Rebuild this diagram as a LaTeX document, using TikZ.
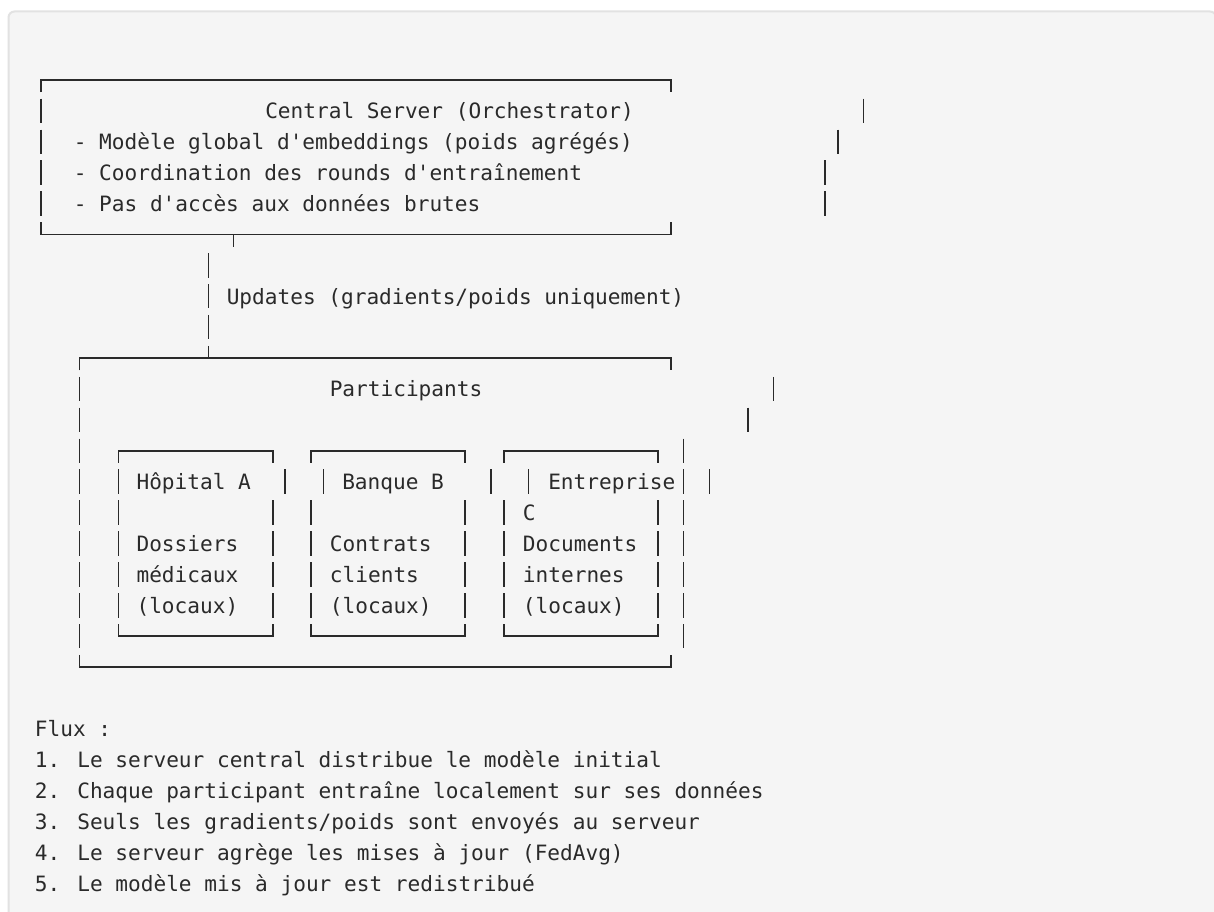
\documentclass[tikz,border=0pt]{standalone}
\usepackage{fontspec}
\newfontfamily\asciimono{DejaVu Sans Mono}[Ligatures=TeXOff]
\usetikzlibrary{positioning}
\definecolor{ink}{HTML}{2A2A2A}
\definecolor{codebg}{HTML}{F5F5F5}
\definecolor{codeframe}{HTML}{E2E2E2}

\begin{document}
\begin{tikzpicture}[
  x=0.75pt, y=-0.75pt,
  declare function={rowy(\r)=80+30.9*\r;},
  bar/.style={draw=ink, line width=1.2pt},
  txt/.style={font=\asciimono\fontsize{15.83}{19}\selectfont, text=ink,
    anchor=base west, inner sep=0pt},
  frame/.style={draw=codeframe, line width=1.5pt, fill=codebg,
    rounded corners=4.5pt},
]
\useasboundingbox (0,0) rectangle (1214,912);
\clip (0,0) rectangle (1214,912);
\fill[white] (0,0) rectangle (1214,912);
\draw[frame] (8.5,11.5) rectangle (1216,940);

% Central server box
\draw[bar] (40.7,{rowy(0)+12.2}) |- (670.7,{rowy(0)}) -- ++(0,12.2);
\draw[bar] (40.7,{rowy(5)-12.2}) |- (670.7,{rowy(5)}) -- ++(0,-12.2);
\draw[bar] (233.3,{rowy(5)}) -- ++(0,12.2);
\foreach \r/\xr in {1/863.3, 2/837.7, 3/825, 4/825} {
  \draw[bar] (40.7,{rowy(\r)-12.2}) -- ++(0,24.4);
  \draw[bar] (\xr,{rowy(\r)-12.2}) -- ++(0,24.4);
}

\node[txt] (server) at (265,{rowy(1)+7.8}) {Central Server (Orchestrator)};
\node[txt] (model) at (73.5,{rowy(2)+7.8})
  {- Modèle global d'embeddings (poids agrégés)};
\node[txt] (coord) at (73.5,{rowy(3)+7.8})
  {- Coordination des rounds d'entraînement};
\node[txt] (noaccess) at (73.5,{rowy(4)+7.8})
  {- Pas d'accès aux données brutes};

% Link between the two boxes
\foreach \r in {6,7,8}
  \draw[bar] (208.3,{rowy(\r)-12.2}) -- ++(0,24.4);
\draw[bar] (208.3,{rowy(9)-12.2}) -- ++(0,12.2);
\node[txt] (updates) at (226.5,{rowy(7)+7.8})
  {Updates (gradients/poids uniquement)};

% Participants box
\draw[bar] (79.3,{rowy(9)+12.2}) |- (670.7,{rowy(9)}) -- ++(0,12.2);
\draw[bar] (79.3,{rowy(19)-12.2}) |- (670.7,{rowy(19)}) -- ++(0,-12.2);
\foreach \r/\xr in {10/773.3, 11/747.7, 12/683.3, 13/683.3, 14/683.3,
    15/683.3, 16/683.3, 17/683.3, 18/683.3} {
  \draw[bar] (79.3,{rowy(\r)-12.2}) -- ++(0,24.4);
  \draw[bar] (\xr,{rowy(\r)-12.2}) -- ++(0,24.4);
}
\draw[bar] (709.3,{rowy(13)-12.2}) -- ++(0,24.4);
\node[txt] (parts) at (329.5,{rowy(10)+7.8}) {Participants};

% Inner boxes
\foreach \xa/\xb in {118.3/272.7, 311/465, 504/657.7} {
  \draw[bar] (\xa,{rowy(12)+12.2}) |- (\xb,{rowy(12)}) -- ++(0,12.2);
  \draw[bar] (\xa,{rowy(18)-12.2}) |- (\xb,{rowy(18)}) -- ++(0,-12.2);
  \foreach \r in {14,...,17} {
    \draw[bar] (\xa,{rowy(\r)-12.2}) -- ++(0,24.4);
    \draw[bar] (\xb,{rowy(\r)-12.2}) -- ++(0,24.4);
  }
}
\foreach \xr in {118.3, 285, 323.3, 490.7, 528.3}
  \draw[bar] (\xr,{rowy(13)-12.2}) -- ++(0,24.4);

\node[txt] (hopital) at (136.3,{rowy(13)+7.8}) {Hôpital A};
\node[txt] (banque) at (342,{rowy(13)+7.8}) {Banque B};
\node[txt] (entreprise) at (548,{rowy(13)+7.8}) {Entreprise};
\node[txt] (entrepriseC) at (522.7,{rowy(14)+7.8}) {C};
\foreach \r/\ta/\tb/\tc in {15/Dossiers/Contrats/Documents,
    16/médicaux/clients/internes, 17/(locaux)/(locaux)/(locaux)} {
  \node[txt] (hop\r) at (136.3,{rowy(\r)+7.8}) {\ta};
  \node[txt] (ban\r) at (329.7,{rowy(\r)+7.8}) {\tb};
  \node[txt] (ent\r) at (522.7,{rowy(\r)+7.8}) {\tc};
}

% Flow steps
\node[txt] (flux) at (34.7,{rowy(21)+7.8}) {Flux :};
\node[txt] (step1) at (34.7,{rowy(22)+7.8})
  {1. Le serveur central distribue le modèle initial};
\node[txt] (step2) at (34.7,{rowy(23)+7.8})
  {2. Chaque participant entraîne localement sur ses données};
\node[txt] (step3) at (34.7,{rowy(24)+7.8})
  {3. Seuls les gradients/poids sont envoyés au serveur};
\node[txt] (step4) at (34.7,{rowy(25)+7.8})
  {4. Le serveur agrège les mises à jour (FedAvg)};
\node[txt] (step5) at (34.7,{rowy(26)+7.8})
  {5. Le modèle mis à jour est redistribué};

\end{tikzpicture}
\end{document}
